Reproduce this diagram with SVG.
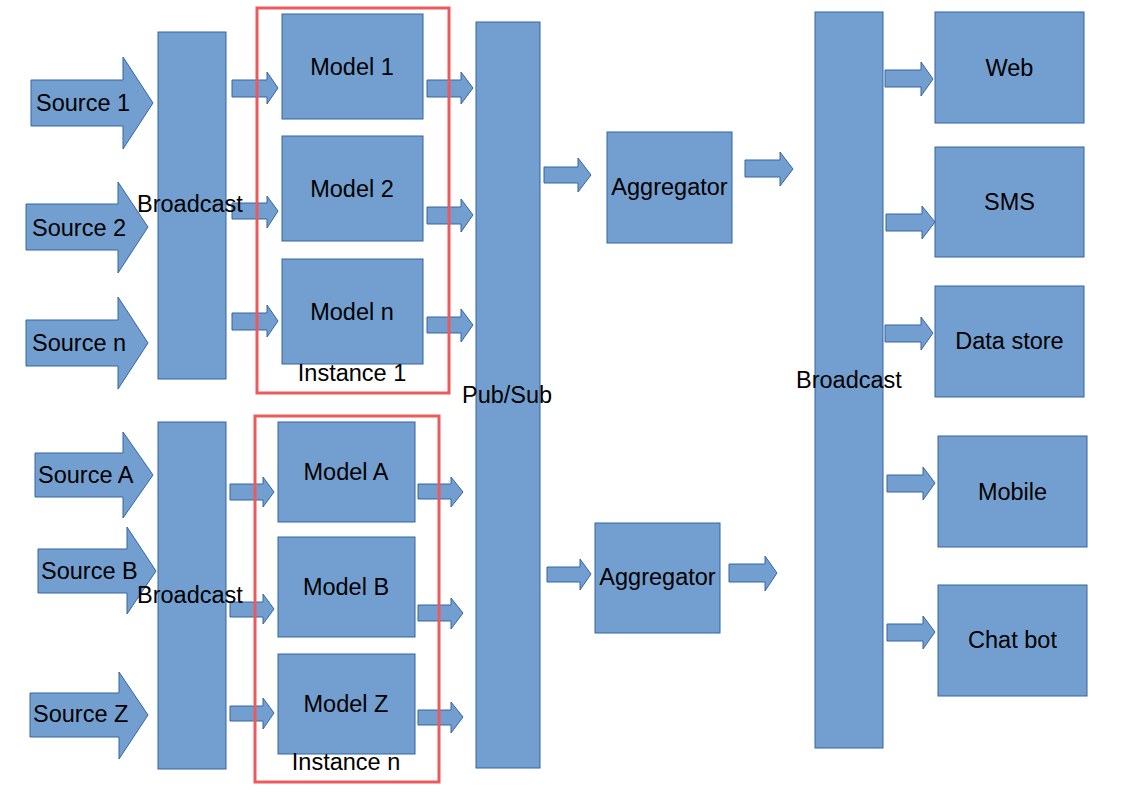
<svg xmlns="http://www.w3.org/2000/svg" width="1123" height="794" viewBox="0 0 1123 794">
<style>
.s{fill:#729fcf;stroke:#3465a4;stroke-width:1}
.t{font-family:"Liberation Sans",Arial,sans-serif;font-size:23.5px;fill:#000}
.c{text-anchor:middle}
.r{fill:none;stroke:#ec5a5d;stroke-width:3}
</style>
<rect width="1123" height="794" fill="#fff"/>
<g id="sources">
<g id="source1"><polygon class="s" points="31,80 123,80 123,57 153,103 123,149 123,126 31,126"/><text class="t" x="36" y="111">Source 1</text></g>
<g id="source2"><polygon class="s" points="26,204 118,204 118,182 148,227 118,273 118,250 26,250"/><text class="t" x="32" y="236">Source 2</text></g>
<g id="sourcen"><polygon class="s" points="26,320 118,320 118,297 148,343 118,389 118,366 26,366"/><text class="t" x="32" y="351">Source n</text></g>
<g id="sourceA"><polygon class="s" points="35,453 123,453 123,432 153,475 123,518 123,497 35,497"/><text class="t" x="38" y="483">Source A</text></g>
<g id="sourceB"><polygon class="s" points="38,549 127,549 127,527 156,571 127,614 127,593 38,593"/><text class="t" x="41" y="579">Source B</text></g>
<g id="sourceZ"><polygon class="s" points="30,693 119,693 119,672 148,715 119,759 119,737 30,737"/><text class="t" x="33" y="722">Source Z</text></g>
</g>
<g id="broadcast1"><rect class="s" x="158" y="32" width="68" height="347"/></g>
<g id="broadcast2"><rect class="s" x="158" y="422" width="68" height="347"/></g>
<g id="model1"><rect class="s" x="282" y="14" width="141" height="105"/><text class="t c" x="352" y="75">Model 1</text></g>
<g id="model2"><rect class="s" x="282" y="136" width="141" height="105"/><text class="t c" x="352" y="197">Model 2</text></g>
<g id="modeln"><rect class="s" x="282" y="259" width="141" height="105"/><text class="t c" x="352" y="320">Model n</text></g>
<g id="modelA"><rect class="s" x="278" y="422" width="137" height="100"/><text class="t c" x="346" y="480">Model A</text></g>
<g id="modelB"><rect class="s" x="278" y="537" width="137" height="100"/><text class="t c" x="346" y="595">Model B</text></g>
<g id="modelZ"><rect class="s" x="278" y="654" width="137" height="100"/><text class="t c" x="346" y="712">Model Z</text></g>
<g id="pubsub"><rect class="s" x="476" y="22" width="64" height="746"/></g>
<g id="aggregator1"><rect class="s" x="607" y="132" width="125" height="111"/><text class="t c" x="669.5" y="195">Aggregator</text></g>
<g id="aggregator2"><rect class="s" x="595" y="523" width="125" height="110"/><text class="t c" x="657.5" y="585">Aggregator</text></g>
<g id="broadcast3"><rect class="s" x="815" y="12" width="68" height="736"/></g>
<g id="web"><rect class="s" x="935" y="12" width="149" height="111"/><text class="t c" x="1009.5" y="76">Web</text></g>
<g id="sms"><rect class="s" x="935" y="147" width="149" height="110"/><text class="t c" x="1009.5" y="210">SMS</text></g>
<g id="datastore"><rect class="s" x="935" y="286" width="149" height="111"/><text class="t c" x="1009.5" y="349">Data store</text></g>
<g id="mobile"><rect class="s" x="938" y="436" width="149" height="111"/><text class="t c" x="1012.5" y="500">Mobile</text></g>
<g id="chatbot"><rect class="s" x="938" y="585" width="149" height="111"/><text class="t c" x="1012.5" y="648">Chat bot</text></g>
<g id="connectors">
<polygon class="s" points="232,80 267,80 267,72 278,88 267,104 267,97 232,97"/>
<polygon class="s" points="232,203 267,203 267,196 278,211 267,228 267,219 232,219"/>
<polygon class="s" points="232,313 267,313 267,305 278,321 267,337 267,330 232,330"/>
<polygon class="s" points="427,80 461,80 461,72 473,88 461,104 461,97 427,97"/>
<polygon class="s" points="427,207 461,207 461,199 473,215 461,232 461,224 427,224"/>
<polygon class="s" points="427,317 461,317 461,309 473,325 461,342 461,333 427,333"/>
<polygon class="s" points="230,484 263,484 263,477 274,492 263,507 263,500 230,500"/>
<polygon class="s" points="230,602 263,602 263,594 274,609 263,624 263,617 230,617"/>
<polygon class="s" points="230,706 263,706 263,698 274,713 263,729 263,721 230,721"/>
<polygon class="s" points="418,484 451,484 451,477 463,492 451,507 451,499 418,499"/>
<polygon class="s" points="418,605 451,605 451,598 463,613 451,629 451,621 418,621"/>
<polygon class="s" points="418,710 451,710 451,702 463,717 451,733 451,725 418,725"/>
<polygon class="s" points="544,167 578,167 578,158 591,175 578,192 578,183 544,183"/>
<polygon class="s" points="547,567 580,567 580,559 591,574 580,590 580,582 547,582"/>
<polygon class="s" points="745,160 780,160 780,152 793,169 780,186 780,177 745,177"/>
<polygon class="s" points="729,564 765,564 765,556 777,573 765,591 765,582 729,582"/>
<polygon class="s" points="885,70 921,70 921,62 933,79 921,96 921,87 885,87"/>
<polygon class="s" points="886,214 922,214 922,206 935,222 922,239 922,231 886,231"/>
<polygon class="s" points="885,325 921,325 921,317 933,333 921,350 921,342 885,342"/>
<polygon class="s" points="887,475 923,475 923,467 935,483 923,500 923,492 887,492"/>
<polygon class="s" points="887,624 923,624 923,616 935,632 923,649 923,641 887,641"/>
</g>
<g id="instance1"><rect class="r" x="257" y="8" width="192" height="385"/><text class="t c" x="352" y="381">Instance 1</text></g>
<g id="instancen"><rect class="r" x="255" y="416" width="184" height="366"/><text class="t c" x="346" y="770">Instance n</text></g>
<g id="labels">
<text class="t" x="137" y="212">Broadcast</text>
<text class="t" x="137" y="603">Broadcast</text>
<text class="t" x="462" y="403">Pub/Sub</text>
<text class="t" x="796" y="388">Broadcast</text>
</g>
</svg>
